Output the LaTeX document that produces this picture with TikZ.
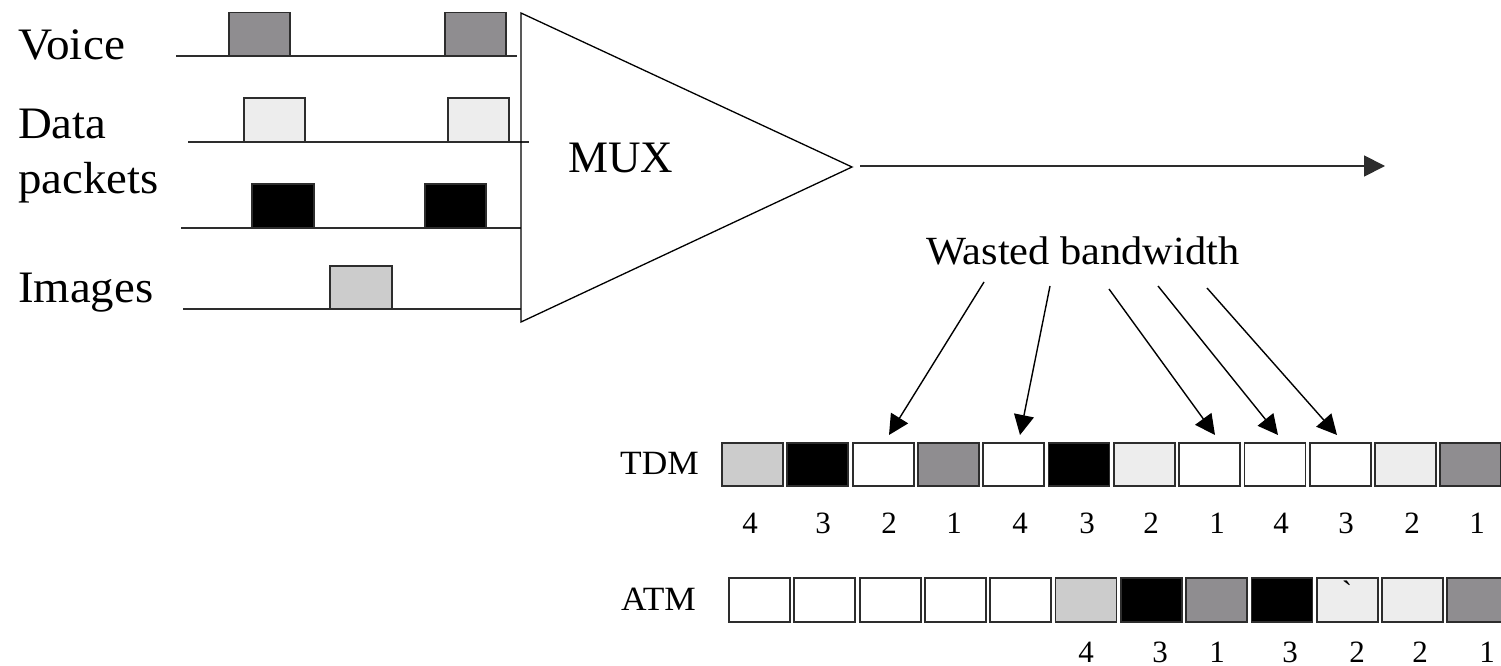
\documentclass[tikz,border=0pt]{standalone}
\usepackage{fontspec}
\setmainfont{Liberation Serif}
\usetikzlibrary{arrows.meta,calc}
\definecolor{vgrey}{RGB}{143,141,144}
\definecolor{dgrey}{RGB}{237,237,237}
\definecolor{igrey}{RGB}{204,204,204}
\definecolor{edge}{RGB}{45,45,45}
\newcommand{\wide}[2]{\scalebox{#1}[1]{#2}}
\tikzset{
  lbl/.style={anchor=base west, inner sep=0pt, font=\fontsize{45}{45}\selectfont},
  smalllbl/.style={anchor=base west, inner sep=0pt, font=\fontsize{34}{34}\selectfont},
  num/.style={anchor=base, inner sep=0pt, font=\fontsize{31}{31}\selectfont},
  wline/.style={draw=edge, line width=1.8pt},
  pulse/.style={draw=edge, line width=1.6pt},
  cell/.style={draw=edge, line width=1.8pt, minimum width=61pt, minimum height=43pt, inner sep=0pt, outer sep=0pt},
  muxline/.style={draw=black, line width=1.3pt},
  warrow/.style={draw=black, line width=1.4pt, -{Triangle[length=20pt,width=20pt]}},
}
\begin{document}
\begin{tikzpicture}[x=1pt,y=-1pt]
\useasboundingbox (0,0) rectangle (1501,666);

% labels
\node[lbl] (voice) at (18,60) {\wide{1.05}{Voice}};
\node[lbl] (data) at (18,139) {\wide{1.04}{Data}};
\node[lbl] (packets) at (18,193) {\wide{1.04}{packets}};
\node[lbl] (images) at (18,302) {\wide{1.04}{Images}};

% waveforms
\draw[pulse, fill=vgrey] (229,12.5) rectangle (290,56);
\draw[pulse, fill=vgrey] (445,12.5) rectangle (506,56);
\draw[wline] (176,56) -- (517,56);

\draw[pulse, fill=dgrey] (244,98) rectangle (305,142);
\draw[pulse, fill=dgrey] (448,98) rectangle (509,142);
\draw[wline] (188,142) -- (529,142);

\draw[pulse, fill=black] (252,184) rectangle (314,228);
\draw[pulse, fill=black] (425,184) rectangle (486,228);
\draw[wline] (181,228) -- (521,228);

\draw[pulse, fill=igrey] (330,266) rectangle (392,309);
\draw[wline] (183,309) -- (521,309);

% MUX
\coordinate (mtop) at (521,13);
\coordinate (mbot) at (521,322);
\coordinate (mapex) at (852,167);
\draw[muxline, line join=miter] (mtop) -- (mapex) -- (mbot) -- cycle;
\node[lbl] (mux) at (568,172) {MUX};

% output
\coordinate (outs) at (860,166);
\coordinate (oute) at (1385,166);
\draw[draw=edge, line width=1.8pt, -{Triangle[length=21pt,width=21pt]}] (outs) -- (oute);

% TDM row
\node[smalllbl] (tdm) at (620,474) {\wide{1.04}{TDM}};
\foreach \c [count=\i] in {igrey,black,white,vgrey,white,black,dgrey,white,white,white,dgrey,vgrey} {
  \node[cell, fill=\c] (t\i) at ({752.5+65.3*(\i-1)},464.5) {};
}
\foreach \x/\n [count=\i] in {750/4,823/3,889/2,954/1,1020/4,1087/3,1151/2,1217/1,1281/4,1346/3,1412/2,1477/1} {
  \node[num] (tn\i) at (\x,533) {\n};
}

% ATM row
\node[smalllbl] (atm) at (621,610) {\wide{1.04}{ATM}};
\foreach \c [count=\i] in {white,white,white,white,white,igrey,black,vgrey,black,dgrey,dgrey,vgrey} {
  \node[cell, fill=\c, minimum height=44pt] (a\i) at ({759.5+65.3*(\i-1)},600) {};
}
\node[inner sep=0pt, font=\fontsize{31}{31}\selectfont] (grave) at (1347,592) {\textasciigrave};
\foreach \x/\n [count=\i] in {1086/4,1160/3,1217/1,1290/3,1357/2,1420/2,1487/1} {
  \node[num] (an\i) at (\x,662) {\n};
}

% wasted bandwidth
\node[anchor=base west, inner sep=0pt, font=\fontsize{40}{40}\selectfont] (wasted) at (926,264) {\wide{1.06}{Wasted bandwidth}};
\coordinate (w1s) at (984,282);  \coordinate (w1e) at (889,435);
\coordinate (w2s) at (1050,286); \coordinate (w2e) at (1020,435);
\coordinate (w3s) at (1109,289); \coordinate (w3e) at (1215,435);
\coordinate (w4s) at (1158,286); \coordinate (w4e) at (1278,435);
\coordinate (w5s) at (1207,288); \coordinate (w5e) at (1337,435);
\foreach \k in {1,...,5} { \draw[warrow] (w\k s) -- (w\k e); }
\end{tikzpicture}
\end{document}
